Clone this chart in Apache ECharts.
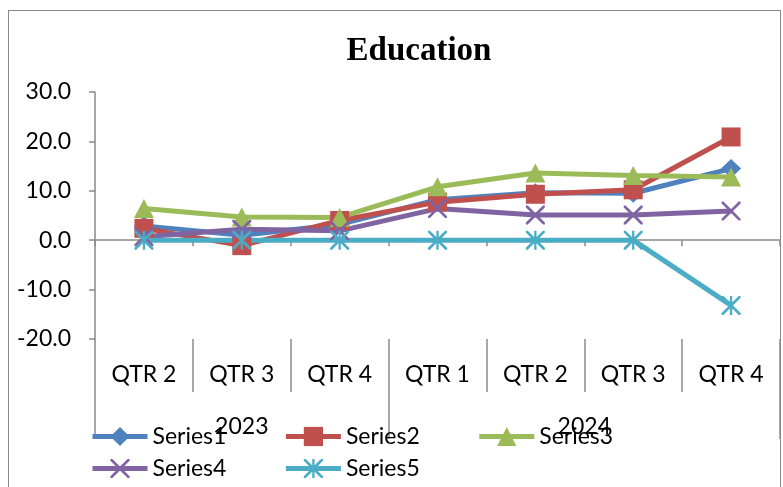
<!DOCTYPE html>
<html>
<head>
<meta charset="utf-8">
<script src="https://cdn.jsdelivr.net/npm/echarts@6/dist/echarts.min.js"></script>
<style>
  html, body { margin: 0; padding: 0; background: #ffffff; }
  #wrap { position: relative; width: 783px; height: 487px; overflow: hidden; }
  #chart { position: absolute; left: 0; top: 0; width: 783px; height: 487px; }
  #frame {
    position: absolute; left: 8px; top: 10px; width: 773px; height: 500px;
    border: 1.5px solid #8a8a8a; box-sizing: border-box; pointer-events: none;
  }
</style>
</head>
<body>
<div id="wrap">
  <div id="chart"></div>
  <div id="frame"></div>
</div>
<script>
// Quarter categories and the year groups they belong to
const quarters = ['QTR 2', 'QTR 3', 'QTR 4', 'QTR 1', 'QTR 2', 'QTR 3', 'QTR 4'];
const years = ['2023', '2024'];
const yearSpans = [3, 4];

// Series values per quarter
const series1 = [2.9, 1.0, 3.2, 8.2, 9.6, 9.5, 14.5];
const series2 = [2.4, -1.1, 4.0, 7.7, 9.3, 10.2, 20.9];
const series3 = [6.4, 4.7, 4.6, 10.8, 13.6, 13.1, 12.8];
const series4 = [0.7, 2.2, 1.9, 6.4, 5.1, 5.1, 5.9];
const series5 = [0, 0, 0, 0, 0, 0, -13.2];

// Value axis range
const yMin = -20;
const yMax = 30;
const yStep = 10;

// Group boundaries and centres on the year axis
const yearBounds = [0];
yearSpans.forEach(s => yearBounds.push(yearBounds[yearBounds.length - 1] + s));
const yearCentres = years.map((_, i) => (yearBounds[i] + yearBounds[i + 1]) / 2);

const AXIS_GREY = '#8a8a8a';
const FONT = 'Lato';
const FONT_SIZE = 23;

// Marker shapes: a cross and an asterisk (cross plus vertical bar)
const crossPath = 'path://M0,0 L2,0 L10,8 L18,0 L20,0 L20,2 L12,10 L20,18 L20,20 L18,20 L10,12 L2,20 L0,20 L0,18 L8,10 L0,2 Z';
const starPath = 'path://M0,0 L2,0 L10,8 L18,0 L20,0 L20,2 L12,10 L20,18 L20,20 L18,20 L10,12 L2,20 L0,20 L0,18 L8,10 L0,2 Z M8.8,0 L11.2,0 L11.2,20 L8.8,20 Z';

const seriesDefs = [
  { name: 'Series1', data: series1, color: '#4F81BD', symbol: 'diamond', size: [20, 19] },
  { name: 'Series2', data: series2, color: '#C0504D', symbol: 'rect', size: [19, 19] },
  { name: 'Series3', data: series3, color: '#9BBB59', symbol: 'triangle', size: [20, 19] },
  { name: 'Series4', data: series4, color: '#8064A2', symbol: crossPath, size: [19, 19] },
  { name: 'Series5', data: series5, color: '#4BACC6', symbol: starPath, size: [19, 19] }
];

const legendBase = {
  left: 90,
  padding: 0,
  itemWidth: 55,
  itemHeight: 24,
  itemGap: 57,
  selectedMode: false,
  lineStyle: { width: 5 },
  textStyle: { fontFamily: FONT, fontSize: FONT_SIZE, color: '#000' }
};

const chart = echarts.init(document.getElementById('chart'), null, { renderer: 'canvas' });

chart.setOption({
  animation: false,
  backgroundColor: 'transparent',
  title: {
    text: 'Education',
    left: 414,
    top: 30,
    textAlign: 'center',
    textStyle: { fontFamily: 'Liberation Serif', fontWeight: 'bold', fontSize: 33, color: '#000' }
  },
  legend: [
    Object.assign({}, legendBase, { top: 425, data: ['Series1', 'Series2', 'Series3'] }),
    Object.assign({}, legendBase, { top: 457, data: ['Series4', 'Series5'] })
  ],
  grid: { left: 95, right: 3, top: 92, bottom: 148, containLabel: false },
  xAxis: [
    {
      // axis line crossing at zero
      type: 'category',
      data: quarters,
      boundaryGap: true,
      axisLine: { onZero: true, lineStyle: { color: AXIS_GREY, width: 1.5 } },
      axisTick: { show: true, interval: 0, length: 6, lineStyle: { color: AXIS_GREY, width: 1.5 } },
      axisLabel: { show: false },
      splitLine: { show: false }
    },
    {
      // quarter labels below the plot
      type: 'category',
      data: quarters,
      position: 'bottom',
      boundaryGap: true,
      axisLine: { show: false, onZero: false },
      axisTick: { show: true, interval: 0, length: 53, lineStyle: { color: AXIS_GREY, width: 1.5 } },
      axisLabel: { interval: 0, margin: 24, fontFamily: FONT, fontSize: FONT_SIZE, color: '#000' },
      splitLine: { show: false }
    },
    {
      // year group row
      type: 'value',
      position: 'bottom',
      min: 0,
      max: yearBounds[yearBounds.length - 1],
      axisLine: { show: false, onZero: false },
      axisTick: { show: true, customValues: yearBounds, length: 100, lineStyle: { color: AXIS_GREY, width: 1.5 } },
      axisLabel: {
        customValues: yearCentres,
        margin: 76,
        fontFamily: FONT, fontSize: FONT_SIZE, color: '#000',
        formatter: v => {
          const i = yearCentres.indexOf(v);
          return i >= 0 ? years[i] : '';
        }
      },
      splitLine: { show: false }
    }
  ],
  yAxis: {
    type: 'value',
    min: yMin,
    max: yMax,
    interval: yStep,
    axisLine: { show: true, lineStyle: { color: AXIS_GREY, width: 1.5 } },
    axisTick: { show: true, length: 6, lineStyle: { color: AXIS_GREY, width: 1.5 } },
    axisLabel: {
      margin: 24,
      fontFamily: FONT, fontSize: FONT_SIZE, color: '#000',
      formatter: v => v.toFixed(1)
    },
    splitLine: { show: false }
  },
  series: seriesDefs.map(d => ({
    name: d.name,
    type: 'line',
    data: d.data,
    xAxisIndex: 0,
    yAxisIndex: 0,
    symbol: d.symbol,
    symbolSize: d.size,
    showAllSymbol: true,
    lineStyle: { color: d.color, width: 5 },
    itemStyle: { color: d.color, opacity: 1 },
    emphasis: { disabled: true }
  }))
});
</script>
</body>
</html>
